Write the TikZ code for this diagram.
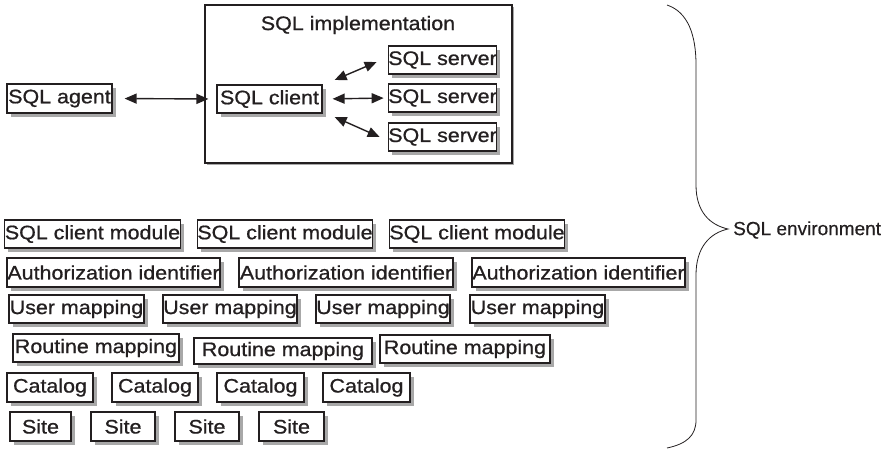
\documentclass[tikz,border=0pt]{standalone}
\usepackage{fontspec}
\setmainfont{Liberation Sans}
\newfontfamily\medfont{Liberation Sans}[FakeStretch=1.1, FakeBold=0.8]
\newfontfamily\envfont{Liberation Sans}[FakeBold=0.4]
\usetikzlibrary{arrows.meta,shadows}
\definecolor{ink}{HTML}{231F20}
\definecolor{shade}{HTML}{A8A8A8}
\begin{document}
\begin{tikzpicture}[x=1pt,y=-1pt,
  every node/.style={font=\medfont\fontsize{19.5}{22}\selectfont, text=ink, inner sep=0pt},
  box/.style={draw=ink, line width=1.2pt, fill=white, minimum height=28pt,
     drop shadow={shadow xshift=3.5pt, shadow yshift=-3.5pt, fill=shade, opacity=1}},
  link/.style={draw=ink, line width=1.4pt, {Triangle[length=12pt,width=10pt]}-{Triangle[length=12pt,width=10pt]}},
  brace/.style={draw=ink, line width=0.8pt}
]
\useasboundingbox (0,0) rectangle (893,450);

% SQL implementation frame
\node[draw=ink, line width=1.2pt, fill=white, minimum width=307pt, minimum height=158pt,
   drop shadow={shadow xshift=2pt, shadow yshift=-2pt, fill=shade, opacity=1}] (impl) at (358.5,84) {};
\node (impltitle) at (358,25) {SQL implementation};

\node[box, minimum width=105pt, minimum height=29pt] (agent) at (59.5,98.5) {SQL agent};
\node[box, minimum width=105pt] (client) at (269.5,99) {SQL client};
\node[box, minimum width=103pt] (srv1) at (442.5,60) {SQL server};
\node[box, minimum width=103pt] (srv2) at (442.5,98) {SQL server};
\node[box, minimum width=103pt] (srv3) at (442.5,137) {SQL server};

\draw[link, shorten <=12pt, shorten >=8pt] (agent.east) -- (client.west);
\draw[link, shorten <=10pt, shorten >=4pt] (client.east) -- (srv2.west);
\coordinate (a1) at ([shift={(12,-19)}]client.east);
\coordinate (b1) at ([shift={(-11,2)}]srv1.west);
\draw[link] (a1) -- (b1);
\coordinate (a3) at ([shift={(12,18)}]client.east);
\coordinate (b3) at ([shift={(-8,0)}]srv3.west);
\draw[link] (a3) -- (b3);

% Row 1
\node[box, minimum width=173pt] (m1) at (92.5,234) {SQL client module};
\node[box, minimum width=172pt] (m2) at (285,234) {SQL client module};
\node[box, minimum width=172pt] (m3) at (477,234) {SQL client module};
% Row 2
\node[box, minimum width=213pt, minimum height=29pt] (ai1) at (113.5,272.5) {Authorization identifier};
\node[box, minimum width=214pt, minimum height=29pt] (ai2) at (346,272.5) {Authorization identifier};
\node[box, minimum width=213pt, minimum height=29pt] (ai3) at (578.5,272.5) {Authorization identifier};
% Row 3
\node[box, minimum width=135pt] (u1) at (76.5,309) {User mapping};
\node[box, minimum width=134pt] (u2) at (230,309) {User mapping};
\node[box, minimum width=134pt] (u3) at (383,309) {User mapping};
\node[box, minimum width=135pt] (u4) at (537.5,309) {User mapping};
% Row 4
\node[box, minimum width=166pt] (r1) at (96,348) {Routine mapping};
\node[box, minimum width=178pt, minimum height=26pt] (r2) at (283,351) {Routine mapping};
\node[box, minimum width=170pt] (r3) at (465,349) {Routine mapping};
% Row 5
\node[box, minimum width=86pt, minimum height=29pt] (c1) at (50,387.5) {Catalog};
\node[box, minimum width=86pt, minimum height=29pt] (c2) at (155,387.5) {Catalog};
\node[box, minimum width=87pt, minimum height=29pt] (c3) at (260.5,387.5) {Catalog};
\node[box, minimum width=87pt, minimum height=29pt] (c4) at (366.5,387.5) {Catalog};
% Row 6
\node[box, minimum width=61pt, minimum height=29pt] (s1) at (40.5,426.5) {Site};
\node[box, minimum width=64pt, minimum height=29pt] (s2) at (123,426.5) {Site};
\node[box, minimum width=64pt, minimum height=29pt] (s3) at (207,426.5) {Site};
\node[box, minimum width=65pt, minimum height=29pt] (s4) at (291.5,426.5) {Site};

% Brace
\coordinate (btop) at (667,5);
\coordinate (btip) at (728,229);
\coordinate (bbot) at (667,448);
\draw[brace] (btop) .. controls (688,12) and (696,35) .. (696,65)
  -- (696,185) .. controls (696,212) and (710,225) .. (btip)
  .. controls (710,233) and (696,247) .. (696,275)
  -- (696,420) .. controls (696,436) and (686,444) .. (bbot);
\node[anchor=west, font=\envfont\fontsize{19}{22}\selectfont] (env) at (733,230) {SQL environment};
\end{tikzpicture}
\end{document}
